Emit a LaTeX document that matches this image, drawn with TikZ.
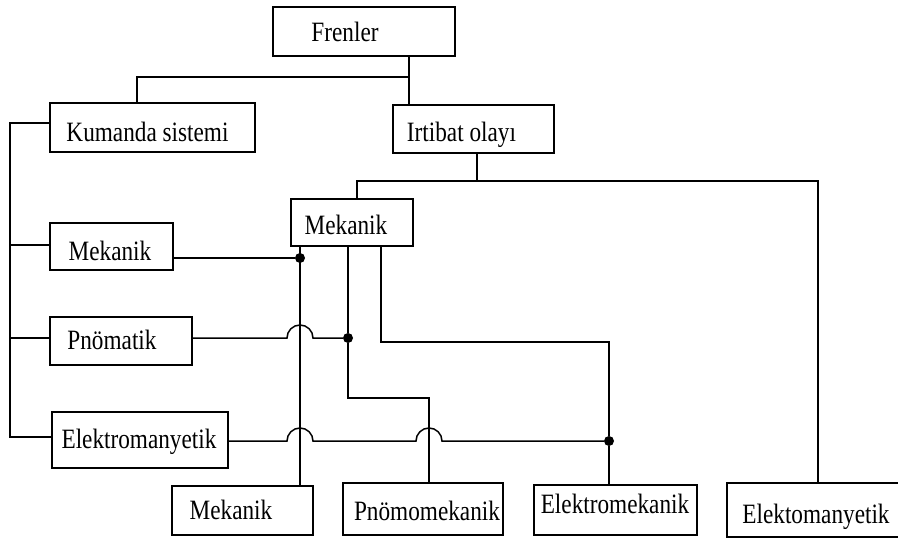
\documentclass[tikz,border=0pt]{standalone}
\usepackage{fontspec}
\setmainfont[FakeStretch=0.83]{Liberation Serif}
\begin{document}
\begin{tikzpicture}[x=1pt,y=-1pt,
  wire/.style={line width=1.5pt},
  box/.style={draw, line width=1.5pt, inner sep=0pt},
  lbl/.style={inner sep=0pt, anchor=base, font=\fontsize{28}{30}\selectfont},
  dot/.style={circle, fill, inner sep=0pt, minimum size=10pt}]
\clip (0,0) rectangle (898,538);
\fill[white] (0,0) rectangle (898,538);
% boxes
\node[box, minimum width=182pt, minimum height=49pt] (fr) at (364,31.5) {};
\node[box, minimum width=205pt, minimum height=49pt] (ks) at (152.5,127.5) {};
\node[box, minimum width=161pt, minimum height=48pt] (ir) at (473.5,129) {};
\node[box, minimum width=122pt, minimum height=47pt] (mm) at (352,222.5) {};
\node[box, minimum width=123pt, minimum height=47pt] (ml) at (111.5,246.5) {};
\node[box, minimum width=142pt, minimum height=48pt] (pm) at (121,341) {};
\node[box, minimum width=176pt, minimum height=56pt] (el) at (140,440) {};
\node[box, minimum width=141pt, minimum height=49pt] (mb) at (242.5,510.5) {};
\node[box, minimum width=160pt, minimum height=52pt] (pmm) at (423,509) {};
\node[box, minimum width=163pt, minimum height=50pt] (em) at (615.5,510) {};
\node[box, minimum width=179pt, minimum height=54pt] (ekm) at (816.5,510) {};
% labels
\node[lbl] (frt) at (345,41.5) {Frenler};
\node[lbl] (kst) at (147.5,141.5) {Kumanda sistemi};
\node[lbl] (irt) at (461.5,141.5) {Irtibat olayı};
\node[lbl] (mmt) at (346,234) {Mekanik};
\node[lbl] (mlt) at (110,260) {Mekanik};
\node[lbl] (pmt) at (112,349) {Pnömatik};
\node[lbl] (elt) at (139,448) {Elektromanyetik};
\node[lbl] (mbt) at (231,519) {Mekanik};
\node[lbl] (pmmt) at (427,520) {Pnömomekanik};
\node[lbl] (emt) at (615,513) {Elektromekanik};
\node[lbl] (ekmt) at (816,523) {Elektomanyetik};
% junctions
\coordinate (j1) at (409,77);
\coordinate (j2) at (137,77);
\coordinate (j3) at (477,181);
\coordinate (j4) at (357,181);
\coordinate (j5) at (818,181);
\coordinate (b1) at (10,123);
\coordinate (b2) at (10,245);
\coordinate (b3) at (10,338);
\coordinate (b4) at (10,437);
\node[dot] (d1) at (300,258) {};
\node[dot] (d2) at (348,338) {};
\node[dot] (d3) at (609,441) {};
\coordinate (k1) at (348,398);
\coordinate (k2) at (429,398);
\coordinate (k3) at (381,342);
\coordinate (k4) at (609,342);
% wires
\draw[wire] (fr.south -| j1) -- (j1) -- (ir.north -| j1);
\draw[wire] (j1) -- (j2) -- (ks.north -| j2);
\draw[wire] (ir.south -| j3) -- (j3);
\draw[wire] (mm.north -| j4) -- (j4) -- (j5) -- (ekm.north -| j5);
\draw[wire] (ks.west |- b1) -- (b1) -- (b4) -- (el.west |- b4);
\draw[wire] (b2) -- (ml.west |- b2);
\draw[wire] (b3) -- (pm.west |- b3);
\draw[wire] (ml.east |- d1) -- (d1);
\draw[wire] (mm.south -| d1) -- (mb.north -| d1);
\draw[wire] (pm.east |- d2) -- (287,338) arc[start angle=180, end angle=360, radius=13] -- (d2);
\draw[wire] (mm.south -| d2) -- (d2) -- (k1) -- (k2) -- (pmm.north -| k2);
\draw[wire] (mm.south -| k3) -- (k3) -- (k4) -- (d3) -- (em.north -| d3);
\draw[wire] (el.east |- d3) -- (287,441) arc[start angle=180, end angle=360, radius=13]
  -- (416,441) arc[start angle=180, end angle=360, radius=13] -- (d3);
\end{tikzpicture}
\end{document}
